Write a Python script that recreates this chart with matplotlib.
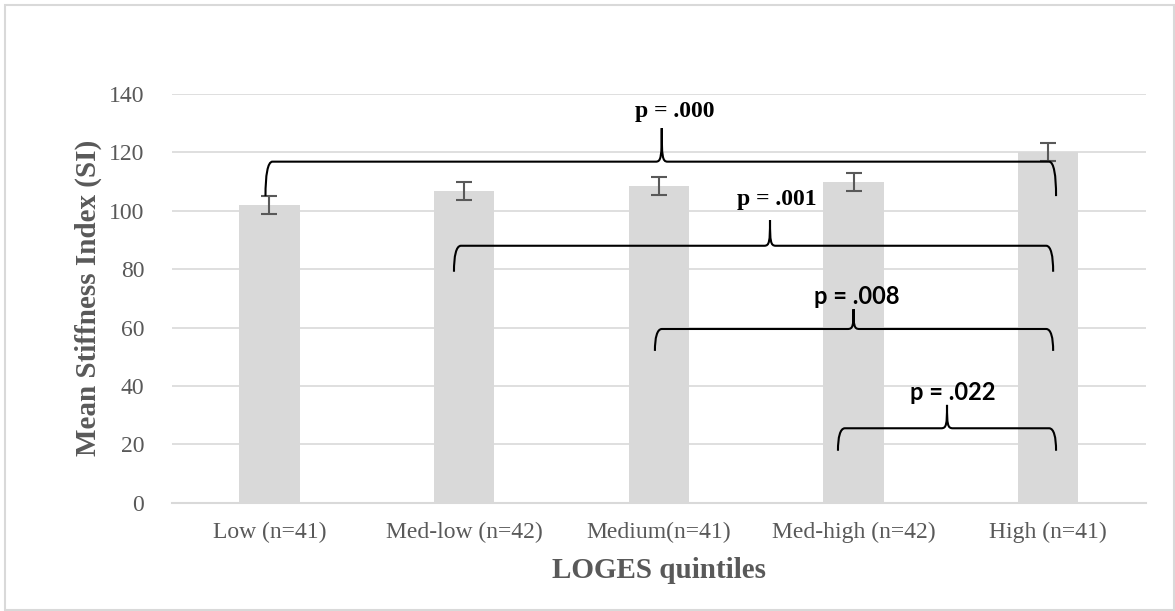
import matplotlib.pyplot as plt
import numpy as np
from matplotlib.path import Path
from matplotlib.patches import PathPatch, Rectangle

categories = ['Low (n=41)', 'Med-low (n=42)', 'Medium(n=41)', 'Med-high (n=42)', 'High (n=41)']
means = [102, 106.7, 108.6, 109.8, 120]
errors = [3.1, 3.1, 3.1, 3.1, 3.1]

# brace annotations: left x, right x, tip x, bottom y, top y, tip y, label y
p_labels = ['p = .000', 'p = .001', 'p = .008', 'p = .022']
p_fonts = ['Liberation Serif', 'Liberation Serif', 'Lato', 'Lato']
br_left = [-0.02, 0.948, 1.98, 2.92]
br_right = [4.04, 4.025, 4.025, 4.04]
br_tip = [2.015, 2.571, 3.0, 3.48]
br_bottom = [105, 79.1, 52, 17.8]
br_top = [116.8, 88.0, 59.5, 25.5]
br_tipy = [128.3, 96.8, 66.3, 33.5]
lab_x = [2.083, 2.607, 3.016, 3.51]
lab_y = [133.9, 104, 70.5, 37.6]

gray = '#595959'
light = '#D9D9D9'

fig = plt.figure(figsize=(11.75, 6.11), dpi=100)
ax = fig.add_axes([0.1464, 0.1772, 0.8286, 0.6691])

x = np.arange(len(categories))
ax.bar(x, means, width=0.31, color=light, zorder=2)
ax.errorbar(x, means, yerr=errors, fmt='none', ecolor=gray, elinewidth=1.5,
            capsize=6, capthick=1.5, zorder=3)

ax.set_ylim(0, 140)
ax.set_xlim(-0.5, 4.5)
ax.set_yticks(range(0, 141, 20))
ax.yaxis.grid(True, color=light, linewidth=1.2, zorder=0)
ax.set_axisbelow(True)
for s in ['top', 'right', 'left']:
    ax.spines[s].set_visible(False)
ax.spines['bottom'].set_color(light)
ax.spines['bottom'].set_linewidth(1.5)
ax.tick_params(length=0, labelsize=17, colors=gray, pad=14)
ax.tick_params(axis='y', pad=20)
ax.set_xticks(x)
ax.set_xticklabels(categories)
for t in ax.get_xticklabels() + ax.get_yticklabels():
    t.set_fontfamily('Liberation Serif')

ax.set_xlabel('LOGES quintiles', fontsize=21, fontweight='bold', color=gray,
              fontfamily='Liberation Serif', labelpad=10)
ax.set_ylabel('Mean Stiffness Index (SI)', fontsize=21, fontweight='bold', color=gray,
              fontfamily='Liberation Serif', labelpad=5)


def brace(x0, x1, xt, yb, yt, ytip):
    dx = 0.036
    tdx = 0.03
    h = yt - yb
    verts = [
        (x0, yb), (x0, yb + 0.6 * h), (x0 + dx * 0.3, yt), (x0 + dx, yt),
        (xt - tdx, yt),
        (xt - tdx * 0.1, yt), (xt, yt + (ytip - yt) * 0.15), (xt, ytip),
        (xt, yt + (ytip - yt) * 0.15), (xt + tdx * 0.1, yt), (xt + tdx, yt),
        (x1 - dx, yt),
        (x1 - dx * 0.3, yt), (x1, yb + 0.6 * h), (x1, yb),
    ]
    codes = [Path.MOVETO, Path.CURVE4, Path.CURVE4, Path.CURVE4,
             Path.LINETO,
             Path.CURVE4, Path.CURVE4, Path.CURVE4,
             Path.CURVE4, Path.CURVE4, Path.CURVE4,
             Path.LINETO,
             Path.CURVE4, Path.CURVE4, Path.CURVE4]
    ax.add_patch(PathPatch(Path(verts, codes), fill=False, edgecolor='black',
                           linewidth=1.5, zorder=4, clip_on=False))


for i in range(len(p_labels)):
    brace(br_left[i], br_right[i], br_tip[i], br_bottom[i], br_top[i], br_tipy[i])
    ax.text(lab_x[i], lab_y[i], p_labels[i], ha='center', va='center', fontsize=17,
            fontweight='bold', color='black', fontfamily=p_fonts[i], zorder=5)

fig.patches.append(Rectangle((4.5 / 1175, 1 - 610 / 611), 1169.5 / 1175, 605 / 611,
                             transform=fig.transFigure, fill=False,
                             edgecolor=light, linewidth=1.5))

fig.savefig('out.png', dpi=100)
